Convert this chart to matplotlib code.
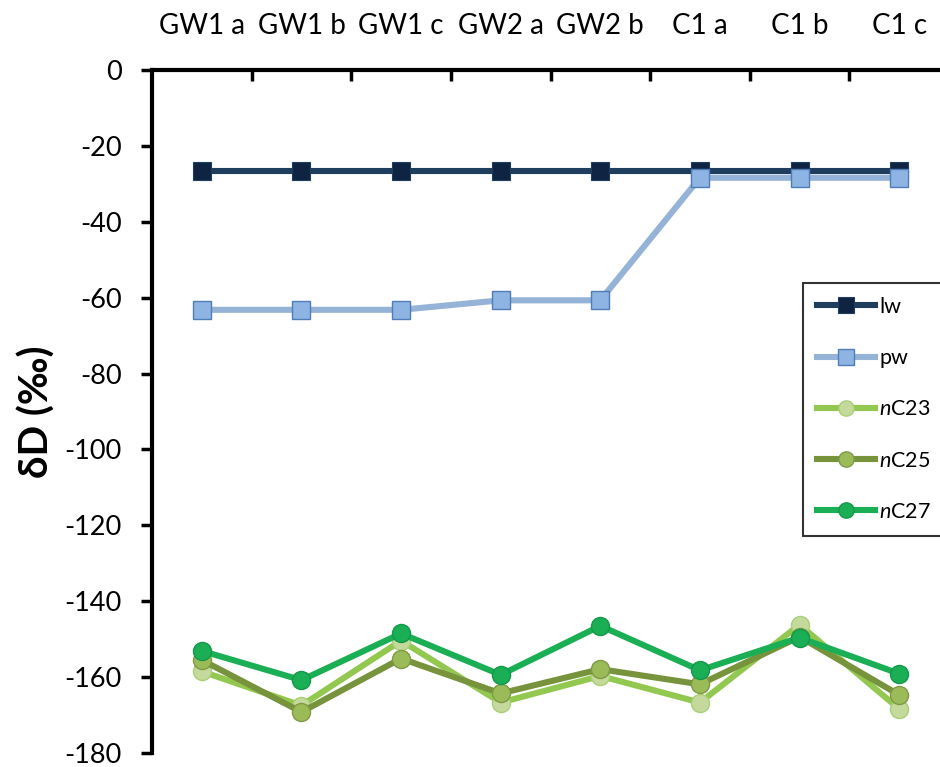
#!/usr/bin/env python3
"""
plot.py
dD of leaf water, plant water and n-alkanes per sample (top category axis).
"""

import matplotlib
matplotlib.use("Agg")
import matplotlib.pyplot as plt
from matplotlib.ticker import FixedLocator, NullFormatter

plt.rcParams["font.family"] = ["Lato", "DejaVu Sans"]
plt.rcParams["mathtext.fontset"] = "custom"
plt.rcParams["mathtext.it"] = "Lato:italic"
plt.rcParams["mathtext.rm"] = "Lato"

# ------------------------------------------------------------------
# data
# ------------------------------------------------------------------
samples = ["GW1 a", "GW1 b", "GW1 c", "GW2 a", "GW2 b", "C1 a", "C1 b", "C1 c"]

lw    = [-26.6, -26.6, -26.6, -26.6, -26.6, -26.6, -26.6, -26.6]
pw    = [-63.2, -63.2, -63.2, -60.7, -60.7, -28.4, -28.4, -28.4]
nC23  = [-158.5, -167.5, -150.4, -166.7, -159.7, -166.7, -146.2, -168.4]
nC25  = [-155.5, -169.2, -155.1, -164.3, -157.9, -161.9, -149.4, -164.7]
nC27  = [-153.1, -160.8, -148.5, -159.4, -146.5, -158.2, -149.6, -159.1]

y_ticks = list(range(0, -181, -20))

# ------------------------------------------------------------------
# figure
# ------------------------------------------------------------------
fig = plt.figure(figsize=(9.4, 7.67), dpi=100)
# axes runs a bit past the right edge, like the cropped original
ax = fig.add_axes([152/940, 1 - 753/767, 797/940, (753 - 70)/767])

x = list(range(len(samples)))
LW = 4.4

ax.plot(x, lw, color="#1f3d5c", lw=LW, marker="s", ms=13,
        mfc="#0e2442", mec="#1f3d5c", mew=0.8, label="lw", zorder=3)
ax.plot(x, pw, color="#95b3d7", lw=LW, marker="s", ms=13,
        mfc="#8db4e2", mec="#4f7db8", mew=1.0, label="pw", zorder=4)
ax.plot(x, nC23, color="#92c84f", lw=LW, marker="o", ms=13,
        mfc="#c4d99b", mec="#a9cf77", mew=1.0, label=r"$\it{n}$C23", zorder=5)
ax.plot(x, nC25, color="#77933c", lw=LW, marker="o", ms=13,
        mfc="#9bbb59", mec="#7f9a45", mew=1.0, label=r"$\it{n}$C25", zorder=6)
ax.plot(x, nC27, color="#1aaf54", lw=LW, marker="o", ms=13,
        mfc="#1aaf54", mec="#14984a", mew=1.0, label=r"$\it{n}$C27", zorder=7)

ax.set_xlim(-0.5, len(samples) - 0.5)
ax.set_ylim(-180, 0)

# category labels on top, tick marks between categories
ax.xaxis.set_ticks_position("top")
ax.set_xticks(x)
ax.set_xticklabels(samples, fontsize=20)
ax.tick_params(axis="x", which="major", length=0, pad=22)
ax.xaxis.set_minor_locator(FixedLocator([i + 0.5 for i in x]))
ax.xaxis.set_minor_formatter(NullFormatter())
ax.tick_params(axis="x", which="minor", direction="in", length=8, width=2.5,
               top=True, bottom=False)

ax.set_yticks(y_ticks)
ax.set_yticklabels([str(v) for v in y_ticks], fontsize=19.5)
ax.tick_params(axis="y", direction="out", length=8, width=2.5, pad=14)

for side in ("right", "bottom"):
    ax.spines[side].set_visible(False)
ax.spines["left"].set_linewidth(3)
ax.spines["top"].set_linewidth(3)

ax.set_ylabel("δD (‰)", fontsize=29, fontweight="bold", labelpad=6)

leg = ax.legend(loc="upper left", bbox_to_anchor=(803/940, 1 - 283/767),
                bbox_transform=fig.transFigure, fontsize=15.5, frameon=True,
                fancybox=False, edgecolor="black", labelspacing=1.45,
                handlelength=2.7, handletextpad=0.2, borderpad=0.65,
                borderaxespad=0)
leg.get_frame().set_linewidth(1.5)
for h in leg.get_lines():
    h.set_markersize(11)

fig.savefig("out.png", dpi=100)
plt.close(fig)
